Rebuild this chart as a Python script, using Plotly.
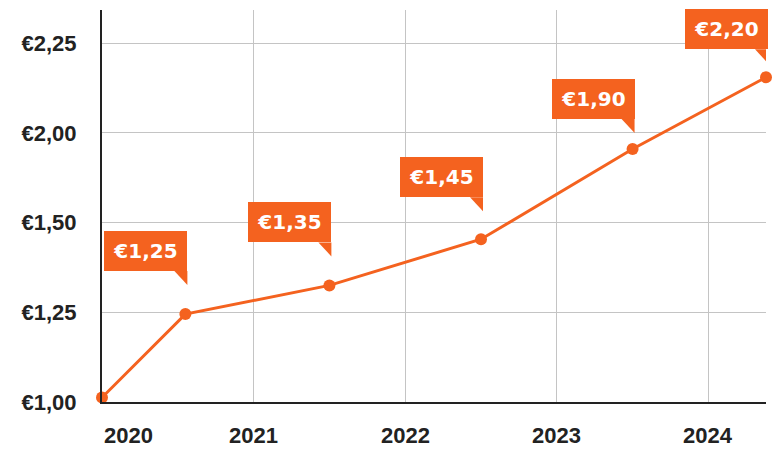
import plotly.graph_objects as go

# ---- data ----
x_years = [2020.0, 2020.55, 2021.5, 2022.5, 2023.5, 2024.38]
y_pos = [0.05, 0.98, 1.30, 1.815, 2.82, 3.62]
price_labels = ["€1,25", "€1,35", "€1,45", "€1,90", "€2,20"]
y_tick_vals = [0, 1, 2, 3, 4]
y_tick_text = ["€1,00", "€1,25", "€1,50", "€2,00", "€2,25"]
x_tick_vals = [2020, 2021, 2022, 2023, 2024]
x_tick_text = ["2020", "2021", "2022", "2023", "2024"]

# ---- style ----
ORANGE = "#F4621F"
DARK = "#222222"
GRID = "#C4C4C4"
AX_FONT = dict(family="Liberation Sans, Arial, sans-serif", size=22, color=DARK, weight="bold")
LBL_FONT = dict(family="DejaVu Sans, sans-serif", size=20, color="white", weight="bold")
label_gap = [43, 43, 42, 30, 28]   # px between box bottom and the point
BOX_W, BOX_H, TAIL_W, TAIL_H, RSHIFT = 83, 40, 13, 14, 2

fig = go.Figure()
fig.add_trace(go.Scatter(
    x=x_years, y=y_pos, mode="lines+markers",
    line=dict(color=ORANGE, width=3),
    marker=dict(color=ORANGE, size=12),
    cliponaxis=False, hoverinfo="skip", showlegend=False,
))

for i, txt in enumerate(price_labels):
    px, py = x_years[i + 1], y_pos[i + 1]
    g = label_gap[i]
    fig.add_annotation(
        x=px, y=py, xref="x", yref="y", text=txt, showarrow=False,
        xanchor="right", yanchor="bottom", xshift=RSHIFT, yshift=g,
        width=BOX_W, height=BOX_H, borderpad=0, borderwidth=0,
        bgcolor=ORANGE, font=LBL_FONT, align="center", valign="middle",
    )
    fig.add_shape(
        type="path", xref="x", yref="y", xsizemode="pixel", ysizemode="pixel",
        xanchor=px, yanchor=py,
        path=f"M {RSHIFT - TAIL_W},{g} L {RSHIFT},{g} L {RSHIFT},{g - TAIL_H} Z",
        fillcolor=ORANGE, line=dict(width=0), layer="above",
    )

for i, (xv, xt) in enumerate(zip(x_tick_vals, x_tick_text)):
    fig.add_annotation(
        x=xv, y=0, xref="x", yref="paper", text=xt, showarrow=False,
        xanchor="left" if i == 0 else "center", yanchor="middle", yshift=-33,
        font=AX_FONT,
    )

fig.update_xaxes(
    range=[2020, 2024.38], tickvals=x_tick_vals[1:], showticklabels=False,
    showgrid=True, gridcolor=GRID, gridwidth=1, zeroline=False,
    showline=True, linecolor=DARK, linewidth=2, ticks="",
)
fig.update_yaxes(
    range=[0, 4.37], tickvals=y_tick_vals, ticktext=y_tick_text,
    tickfont=AX_FONT, ticklabelstandoff=19,
    showgrid=True, gridcolor=GRID, gridwidth=1, zeroline=False,
    showline=True, linecolor=DARK, linewidth=2, ticks="",
)
fig.update_layout(
    width=784, height=459, margin=dict(l=102, r=18, t=10, b=57),
    plot_bgcolor="white", paper_bgcolor="white",
)
fig.write_html("out.html")
